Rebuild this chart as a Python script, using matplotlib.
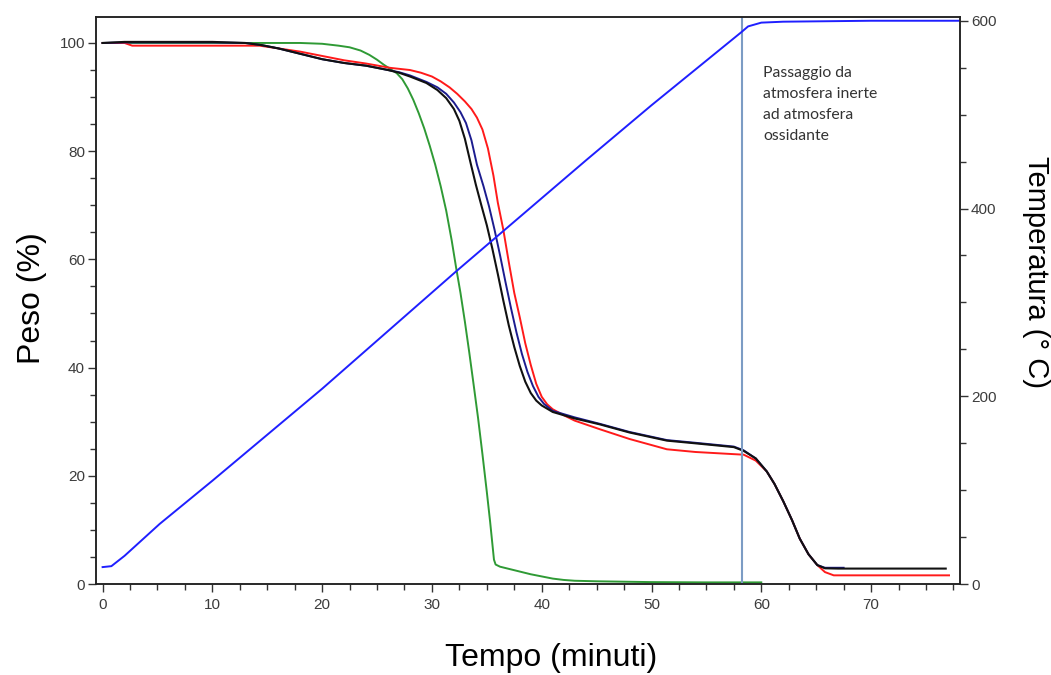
# TGA curves: weight loss (left axis) and furnace temperature (right axis)

import matplotlib
matplotlib.use("Agg")
import matplotlib.pyplot as plt
from matplotlib.ticker import MultipleLocator

# --- data ---
green_t = [0, 10, 18, 20, 21.5, 22.5, 23.5, 24.3, 25, 25.6, 26.2, 26.8, 27.3, 27.8, 28.3,
           28.8, 29.3, 29.8, 30.3, 30.8, 31.3, 31.8, 32.2, 32.6, 33, 33.4, 33.8, 34.2,
           34.6, 35, 35.3, 35.5, 35.65, 35.8, 36.2, 37, 38, 39, 40, 41, 42, 43, 45, 50,
           55, 60]
green_w = [100, 100, 100, 99.85, 99.5, 99.2, 98.6, 97.8, 96.9, 96.0, 95.2, 94.4, 93.3,
           91.6, 89.5, 87.0, 84.2, 81.0, 77.5, 73.5, 69.0, 63.5, 58.5, 53.8, 48.5, 42.8,
           36.8, 30.7, 24, 17, 11.5, 7.5, 4.5, 3.6, 3.2, 2.8, 2.3, 1.8, 1.4, 1.0, 0.75,
           0.6, 0.5, 0.35, 0.3, 0.3]

black_t = [0, 2, 5, 10, 13, 14.5, 16, 18, 20, 22, 24, 26, 27, 28, 29.5, 30.5, 31.3, 32,
           32.5, 33, 33.5, 34, 34.5, 35, 35.5, 36, 36.5, 37, 37.5, 38, 38.5, 39, 39.5, 40,
           41, 43, 45.3, 48, 51.4, 54, 57.5, 58.4, 59.5, 60.5, 61.2, 62, 62.8, 63.5, 64.3,
           65.1, 65.8, 67, 76.8]
black_w = [100, 100.2, 100.2, 100.2, 100, 99.6, 99, 98, 97, 96.3, 95.8, 95, 94.5, 93.8,
           92.6, 91.3, 89.8, 87.8, 85.6, 82.3, 78.0, 73.8, 70.0, 66.3, 62.0, 57.3, 52.4,
           47.8, 43.8, 40.3, 37.4, 35.3, 33.9, 33.0, 31.8, 30.6, 29.5, 28, 26.5, 26, 25.3,
           24.6, 23.2, 20.8, 18.5, 15.3, 11.8, 8.4, 5.5, 3.5, 2.9, 2.85, 2.85]

navy_t = [0, 2, 5, 10, 13, 14.5, 16, 18, 20, 22, 24, 26, 27, 28, 29.5, 30.5, 31.3, 32,
          32.6, 33.1, 33.6, 34.1, 34.7, 35.2, 35.7, 36.2, 36.7, 37.2, 37.7, 38.2, 38.7,
          39.2, 39.7, 40.2, 41, 43, 45.3, 48, 51.4, 54, 57.5, 58.4, 59.5, 60.5, 61.2, 62,
          62.8, 63.5, 64.3, 65.1, 65.8, 67.5]
navy_w = [100, 100.1, 100.1, 100.1, 100, 99.6, 99, 98, 97, 96.3, 95.8, 95, 94.6, 94,
          92.8, 91.8, 90.6, 89.0, 87.2, 85.2, 82.0, 77.5, 73.5, 69.8, 65.5, 60.8, 55.8,
          51.0, 46.5, 42.5, 39.2, 36.6, 34.6, 33.3, 32.0, 30.8, 29.6, 28.1, 26.6, 26.1,
          25.4, 24.7, 23.2, 20.8, 18.5, 15.3, 11.8, 8.4, 5.5, 3.5, 3.0, 3.0]

red_t = [0, 2, 2.7, 10, 14.3, 16, 18, 20, 22, 24, 26.2, 28, 29, 30, 30.8, 31.6, 32.3,
         33, 33.6, 34.1, 34.6, 35.1, 35.6, 36, 36.5, 37, 37.5, 38, 38.5, 39, 39.5, 40,
         40.5, 41, 42, 43, 45.3, 48, 51.4, 54, 57.5, 58.4, 59.5, 60.5, 61.2, 62, 62.8,
         63.5, 64.3, 65.1, 65.8, 66.6, 77.1]
red_w = [100, 100, 99.5, 99.5, 99.5, 99, 98.4, 97.6, 96.8, 96.2, 95.4, 95.0, 94.5, 93.8,
         92.9, 91.8, 90.6, 89.2, 87.8, 86.2, 84.0, 80.5, 75.5, 70.5, 65.5, 59.5, 53.8,
         49.3, 44.5, 40.5, 37, 34.6, 33.2, 32.3, 31.2, 30.2, 28.6, 26.8, 24.9, 24.4, 24,
         23.9, 22.8, 20.8, 18.5, 15.3, 11.8, 8.4, 5.5, 3.5, 2.2, 1.6, 1.6]

temp_t = [0, 0.8, 2, 5.2, 10, 20, 32.2, 44.1, 50, 58.2, 58.8, 60, 62, 70, 78]
temp_c = [18, 19, 30, 64, 110, 208, 333, 452, 510, 588, 594, 598, 599, 600, 600]

gas_switch = 58.2
note = "Passaggio da\natmosfera inerte\nad atmosfera\nossidante"

# --- plot ---
plt.rcParams["font.family"] = ["Liberation Sans", "DejaVu Sans"]

fig = plt.figure(figsize=(10.51, 6.75), dpi=100)
ax = fig.add_axes([96 / 1051, 1 - 584 / 675, 864 / 1051, 567 / 675])
ax2 = ax.twinx()

ax.plot(green_t, green_w, color="#2f9a35", lw=1.4)
ax.plot(red_t, red_w, color="#ff1a1a", lw=1.4)
ax.plot(navy_t, navy_w, color="#1c1c8f", lw=1.4)
ax.plot(black_t, black_w, color="#111111", lw=1.5)
ax.axvline(gas_switch, color="#7c9cc4", lw=1.5)

ax2.plot(temp_t, temp_c, color="#1f1fff", lw=1.4)

ax.set_xlim(-0.6, 78.1)
ax.set_ylim(0, 104.8)
ax2.set_ylim(0, 604)

ax.xaxis.set_major_locator(MultipleLocator(10))
ax.xaxis.set_minor_locator(MultipleLocator(2.5))
ax.yaxis.set_major_locator(MultipleLocator(20))
ax.yaxis.set_minor_locator(MultipleLocator(5))
ax2.yaxis.set_major_locator(MultipleLocator(200))
ax2.yaxis.set_minor_locator(MultipleLocator(50))

for a in (ax, ax2):
    a.tick_params(which="major", length=6, width=1, color="#333333",
                  labelsize=11, labelcolor="#3c3c3c", pad=2)
    a.tick_params(which="minor", length=4, width=1, color="#333333")
    for s in a.spines.values():
        s.set_color("#222222")
        s.set_linewidth(1.1)
ax.tick_params(axis="x", pad=4)

ax.text(60.2, 95.8, note, va="top", ha="left", fontsize=11.3, color="#333333",
        family=["Lato", "DejaVu Sans"], linespacing=1.65)

ax.set_xlabel("Tempo (minuti)", fontsize=23, va="center")
ax.xaxis.set_label_coords(0.527, -0.1305)
ax.set_ylabel("Peso (%)", fontsize=23, va="center")
ax.yaxis.set_label_coords(-0.074, 0.504)
ax2.set_ylabel("Temperatura (° C)", fontsize=21, rotation=270, va="center")
ax2.yaxis.set_label_coords(1.088, 0.55)

fig.savefig("out.png", dpi=100)
